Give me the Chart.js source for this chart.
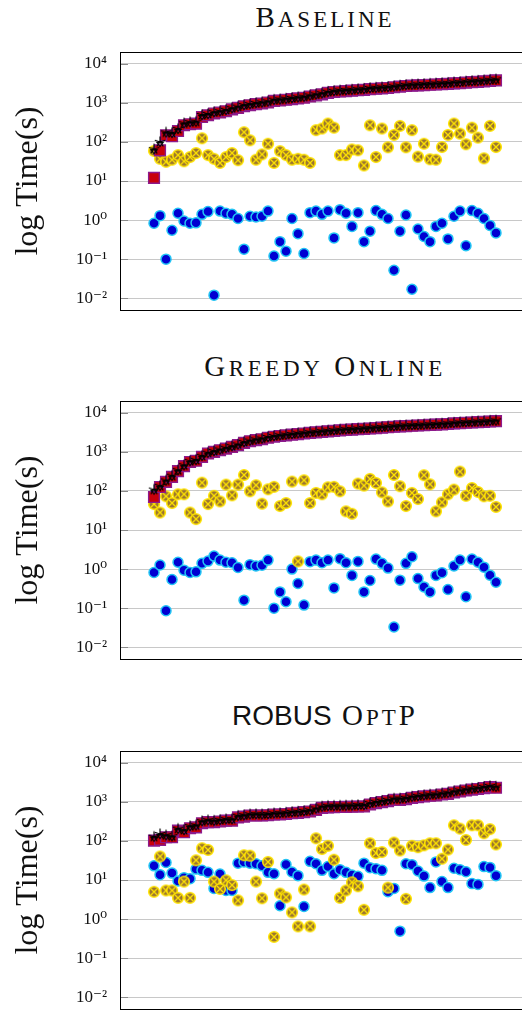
<!DOCTYPE html>
<html>
<head>
<meta charset="utf-8">
<script src="https://cdn.jsdelivr.net/npm/chart.js@4"></script>
<style>
    html, body { margin: 0; padding: 0; background: #fff; overflow: hidden; }
    body { width: 522px; height: 1010px; position: relative; }
    .panel { position: absolute; left: 0; width: 530px; height: 340px; }
    .ttl {
        position: absolute; left: 125px; width: 400px; text-align: center;
        font-family: "Liberation Serif", serif; font-size: 29px; line-height: 29px;
        color: #111; letter-spacing: 3px; white-space: nowrap;
    }
    .sc { font-size: 23px; text-transform: uppercase; }
    .sans { font-family: "Liberation Sans", sans-serif; font-size: 28px; letter-spacing: 0; }
</style>
</head>
<body>
<div class="ttl" style="top:3px">B<span class="sc">aseline</span></div>
<div class="ttl" style="top:352px; letter-spacing:3.6px">G<span class="sc">reedy</span> O<span class="sc">nline</span></div>
<div class="ttl" style="top:701px"><span class="sans">ROBUS</span> O<span class="sc">pt</span>P</div>
<div class="panel" style="top:0px"><canvas id="baselineGraph" width="530" height="340"></canvas></div>
<div class="panel" style="top:349px"><canvas id="greedyGraph" width="530" height="340"></canvas></div>
<div class="panel" style="top:699px"><canvas id="robusGraph" width="530" height="340"></canvas></div>
<script>
// values, one entry per run (x = run index)
var baselineCumulative = [12, 61, 148, 140, 190, 267, 283, 295, 435, 480, 533, 565, 610, 680, 745, 820, 870, 925, 960, 1020, 1120, 1150, 1200, 1250, 1300, 1350, 1450, 1550, 1650, 1800, 1900, 1950, 2000, 2050, 2100, 2150, 2250, 2300, 2350, 2400, 2500, 2600, 2700, 2750, 2800, 2850, 2900, 2950, 3000, 3050, 3150, 3200, 3300, 3400, 3450, 3550, 3650, 3750];
var baselineCumulativeStar = [65, 100, 175, 170, 215, 300, 320, 330, 490, 520, 580, 610, 660, 730, 800, 880, 930, 990, 1030, 1090, 1200, 1230, 1280, 1330, 1390, 1440, 1550, 1650, 1760, 1920, 2020, 2080, 2130, 2180, 2240, 2290, 2400, 2450, 2500, 2560, 2660, 2770, 2880, 2930, 2980, 3040, 3090, 3140, 3200, 3250, 3360, 3410, 3520, 3620, 3680, 3780, 3890, 4000];
var baselineStep = [59, 37, 31, 35, 46, 32, 41, 52, 124, 46, 37, 29, 41, 52, 34, 177, 110, 35, 48, 90, 29, 58, 46, 35, 37, 35, 29, 200, 220, 295, 232, 46, 46, 64, 61, 25, 267, 41, 220, 73, 151, 257, 73, 200, 42, 90, 36, 35, 74, 151, 295, 163, 87, 232, 129, 38, 257, 74];
var baselineSolve = [0.83, 1.3, 0.1, 0.55, 1.5, 0.95, 0.83, 0.85, 1.4, 1.65, 0.012, 1.7, 1.5, 1.4, 1.1, 0.18, 1.25, 1.2, 1.25, 1.7, 0.12, 0.28, 0.16, 1.1, 0.45, 0.14, 1.55, 1.7, 1.4, 1.7, 0.35, 1.85, 1.5, 0.69, 1.55, 0.28, 0.52, 1.75, 1.4, 1.1, 0.052, 0.52, 1.35, 0.017, 0.59, 0.38, 0.28, 0.69, 0.83, 0.33, 1.25, 1.7, 0.22, 1.75, 1.5, 1.1, 0.73, 0.47];

var greedyCumulative = [70, 126, 170, 228, 320, 430, 550, 590, 745, 905, 1000, 1100, 1210, 1340, 1480, 1700, 1870, 2000, 2100, 2300, 2440, 2550, 2650, 2750, 2850, 2950, 3050, 3150, 3250, 3350, 3450, 3550, 3650, 3700, 3800, 3880, 3960, 4050, 4150, 4270, 4380, 4480, 4560, 4640, 4720, 4800, 4880, 4960, 5050, 5150, 5330, 5450, 5550, 5650, 5750, 5850, 5980, 6100];
var greedyCumulativeStar = [108, 135, 185, 245, 340, 455, 580, 625, 790, 950, 1050, 1150, 1270, 1400, 1550, 1780, 1950, 2090, 2200, 2400, 2550, 2660, 2770, 2870, 2980, 3080, 3190, 3290, 3400, 3500, 3600, 3710, 3810, 3870, 3970, 4050, 4140, 4230, 4340, 4460, 4580, 4680, 4770, 4850, 4930, 5020, 5100, 5180, 5280, 5380, 5570, 5690, 5800, 5900, 6010, 6110, 6250, 6370];
var greedyStep = [46, 28, 73, 49, 82, 82, 28, 19, 163, 46, 75, 54, 145, 77, 145, 256, 98, 140, 47, 110, 127, 41, 49, 173, 1.57, 187, 49, 89, 82, 124, 127, 98, 30, 26, 154, 137, 203, 160, 92, 54, 256, 132, 41, 89, 62, 252, 148, 30, 51, 82, 108, 312, 75, 119, 94, 73, 75, 39];
var greedySolve = [0.82, 1.27, 0.086, 0.54, 1.5, 0.94, 0.82, 0.85, 1.4, 1.6, 2.15, 1.7, 1.5, 1.45, 1.1, 0.16, 1.3, 1.2, 1.25, 1.7, 0.1, 0.26, 0.146, 1.0, 0.43, 0.12, 1.55, 1.7, 1.45, 1.7, 0.33, 1.85, 1.45, 0.69, 1.57, 0.26, 0.51, 1.8, 1.4, 1.06, 0.033, 0.52, 1.4, 2.07, 0.57, 0.35, 0.26, 0.69, 0.81, 0.3, 1.2, 1.7, 0.196, 1.8, 1.5, 1.12, 0.7, 0.46];

var robusCumulative = [102, 106, 124, 124, 184, 167, 211, 223, 283, 302, 302, 314, 330, 330, 400, 417, 446, 446, 446, 454, 475, 475, 490, 510, 520, 545, 565, 625, 700, 720, 730, 740, 745, 750, 760, 760, 855, 925, 980, 1040, 1125, 1125, 1170, 1265, 1320, 1375, 1430, 1450, 1540, 1600, 1730, 1840, 1950, 2050, 2130, 2250, 2370, 2300];
var robusCumulativeStar = [128, 150, 140, 132, 205, 190, 240, 250, 320, 340, 330, 345, 360, 360, 440, 455, 480, 485, 480, 490, 510, 515, 530, 550, 560, 585, 610, 680, 760, 790, 795, 800, 805, 810, 830, 835, 930, 1000, 1060, 1120, 1210, 1215, 1260, 1360, 1420, 1480, 1540, 1560, 1650, 1720, 1860, 1970, 2090, 2200, 2280, 2410, 2540, 2460];
var robusStep = [5.0, 40, 5.4, 5.4, 3.5, 9.1, 3.5, 32, 65, 59, 9.1, 5.9, 9.8, 7.4, 3.0, 43, 42, 9.1, 3.4, 29, 0.35, 4.5, 3.6, 1.48, 0.65, 5.7, 0.65, 117, 62, 75, 33, 3.5, 5.4, 8.7, 6.9, 1.73, 87, 49, 52, 6.4, 91, 57, 3.3, 75, 69, 77, 87, 87, 35, 60, 251, 207, 106, 251, 251, 157, 200, 81];
var robusSolve = [23, 13.7, 28, 15, 9.4, 11.5, 10.8, 19, 17.7, 15.7, 6.1, 14.2, 5.4, 5.4, 27, 29, 27, 26, 23, 15.7, 14.5, 2.2, 25, 16, 12.9, 2.1, 30, 26, 17.7, 22, 14.5, 18.4, 15.7, 13.4, 12.4, 27, 20.7, 19.5, 17.7, 5.0, 6.1, 0.49, 26, 24.7, 17, 12.6, 6.4, 29, 9.1, 6.4, 20, 18.4, 16.3, 8.1, 7.7, 22, 21, 12.9];

var yTickValues = [0.01, 0.1, 1, 10, 100, 1000, 10000];
var yTickLabels = ["10\u207B\u00B2", "10\u207B\u00B9", "10\u2070", "10\u00B9", "10\u00B2", "10\u00B3", "10\u2074"];

var serifFont = "'Liberation Serif', 'DejaVu Serif', serif";

// yellow circle with a cross (otimes mark)
function make_otimes_mark() {
    var c = document.createElement("canvas");
    c.width = 14;
    c.height = 14;
    var g = c.getContext("2d");
    g.beginPath();
    g.arc(7, 7, 5.3, 0, 2 * Math.PI);
    g.fillStyle = "#9a7431";
    g.fill();
    g.lineWidth = 1.6;
    g.strokeStyle = "#ffe400";
    g.stroke();
    g.beginPath();
    g.moveTo(4, 4);
    g.lineTo(10, 10);
    g.moveTo(10, 4);
    g.lineTo(4, 10);
    g.lineWidth = 1.3;
    g.stroke();
    return c;
}

// black five-ray star with a small down triangle
function make_star_mark() {
    var c = document.createElement("canvas");
    c.width = 14;
    c.height = 14;
    var g = c.getContext("2d");
    g.strokeStyle = "#000";
    g.lineWidth = 1.2;
    g.beginPath();
    for (var k = 0; k < 5; k++) {
        var a = -Math.PI / 2 + (k * 2 * Math.PI) / 5;
        g.moveTo(7, 7);
        g.lineTo(7 + 5.5 * Math.cos(a), 7 + 5.5 * Math.sin(a));
    }
    g.stroke();
    g.beginPath();
    g.moveTo(4, 7.5);
    g.lineTo(10, 7.5);
    g.lineTo(7, 11.5);
    g.closePath();
    g.stroke();
    return c;
}

var otimesMark = make_otimes_mark();
var starMark = make_star_mark();

var framePlugin = {
    id: "frame",
    afterDraw: function (chart) {
        var ctx = chart.ctx;
        var a = chart.chartArea;
        var y = chart.scales.y;
        ctx.save();
        ctx.strokeStyle = "#8a8a8a";
        ctx.lineWidth = 1;
        for (var v of yTickValues) {
            var py = Math.round(y.getPixelForValue(v)) + 0.5;
            ctx.beginPath();
            ctx.moveTo(a.left, py);
            ctx.lineTo(a.left + 8, py);
            ctx.stroke();
        }
        ctx.strokeStyle = "#000";
        ctx.strokeRect(Math.round(a.left) + 0.5, Math.round(a.top) + 0.5, a.right - a.left, Math.round(a.bottom - a.top));
        ctx.restore();
    },
};

function to_points(values) {
    return values.map(function (v, i) {
        return { x: i, y: v };
    });
}

function create_graph(canvasId, cumulative, cumulativeStar, step, solve) {
    var datasets = [
        { label: "cumulative (star)", data: to_points(cumulativeStar), pointStyle: starMark },
        {
            label: "cumulative",
            data: to_points(cumulative),
            pointStyle: "rect",
            radius: 7.6,
            backgroundColor: "#c8000a",
            borderColor: "#8c1a8c",
            borderWidth: 1.4,
        },
        { label: "step", data: to_points(step), pointStyle: otimesMark },
        {
            label: "solve",
            data: to_points(solve),
            pointStyle: "circle",
            radius: 5,
            backgroundColor: "#0000d2",
            borderColor: "#22c4f4",
            borderWidth: 1.5,
        },
    ];
    return new Chart(canvasId, {
        type: "scatter",
        data: { datasets: datasets },
        plugins: [framePlugin],
        options: {
            responsive: false,
            animation: false,
            events: [],
            layout: { autoPadding: false, padding: { top: 52, bottom: 30, left: 0, right: 0 } },
            plugins: { legend: { display: false }, tooltip: { enabled: false } },
            scales: {
                x: { type: "linear", display: false, min: -5.67, max: 62.67 },
                y: {
                    type: "logarithmic",
                    min: 0.005,
                    max: 20000,
                    afterBuildTicks: function (scale) {
                        scale.ticks = yTickValues.map(function (v) {
                            return { value: v };
                        });
                    },
                    afterFit: function (scale) {
                        scale.width = 120;
                    },
                    ticks: {
                        padding: 13,
                        color: "#111",
                        font: { family: serifFont, size: 17 },
                        callback: function (value) {
                            return yTickLabels[yTickValues.indexOf(value)];
                        },
                    },
                    grid: { color: "#c8c8c8", drawTicks: false, lineWidth: 1 },
                    border: { display: false },
                    title: {
                        display: true,
                        text: "log Time(s)",
                        color: "#111",
                        font: { family: serifFont, size: 32 },
                        padding: { top: 9, bottom: 0 },
                    },
                },
            },
        },
    });
}

create_graph("baselineGraph", baselineCumulative, baselineCumulativeStar, baselineStep, baselineSolve);
create_graph("greedyGraph", greedyCumulative, greedyCumulativeStar, greedyStep, greedySolve);
create_graph("robusGraph", robusCumulative, robusCumulativeStar, robusStep, robusSolve);
</script>
</body>
</html>
